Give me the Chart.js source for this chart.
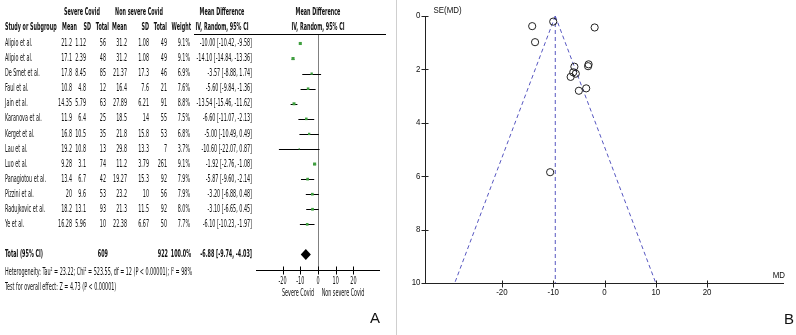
<!DOCTYPE html>
<html>
<head>
<meta charset="utf-8">
<script src="https://cdn.jsdelivr.net/npm/chart.js@4.4.1/dist/chart.umd.min.js"></script>
<style>
    html, body { margin: 0; padding: 0; background: #fff; }
    #wrap { position: relative; width: 796px; height: 335px; overflow: hidden; }
    #forest { position: absolute; left: 0; top: 0; }
    #funnel { position: absolute; left: 398px; top: 0; }
    #divider { position: absolute; left: 396px; top: 0; width: 1px; height: 335px; background: #cfcfcf; }
</style>
</head>
<body>
<div id="wrap">
    <canvas id="forest" width="396" height="335"></canvas>
    <div id="divider"></div>
    <canvas id="funnel" width="398" height="335"></canvas>
</div>
<script>
// forest plot rows
const studies = [
    "Alipio et al.", "Alipio et al.", "De Smet et al.", "Faul et al.", "Jain et al.",
    "Karanova et al.", "Kerget et al.", "Lau et al.", "Luo et al.", "Panagiotou et al.",
    "Pizzini et al.", "Radujkovic et al.", "Ye et al."
];
const severeMean = ["21.2", "17.1", "17.8", "10.8", "14.35", "11.9", "16.8", "19.2", "9.28", "13.4", "20", "18.2", "16.28"];
const severeSD = ["1.12", "2.39", "8.45", "4.8", "5.79", "6.4", "10.5", "10.8", "3.1", "6.7", "9.6", "13.1", "5.96"];
const severeTotal = ["56", "48", "85", "12", "63", "25", "35", "13", "74", "42", "53", "93", "10"];
const nonMean = ["31.2", "31.2", "21.37", "16.4", "27.89", "18.5", "21.8", "29.8", "11.2", "19.27", "23.2", "21.3", "22.38"];
const nonSD = ["1.08", "1.08", "17.3", "7.6", "6.21", "14", "15.8", "13.3", "3.79", "15.3", "10", "11.5", "6.67"];
const nonTotal = ["49", "49", "46", "21", "91", "55", "53", "7", "261", "92", "56", "92", "50"];
const weights = [9.1, 9.1, 6.9, 7.6, 8.8, 7.5, 6.8, 3.7, 9.1, 7.9, 7.9, 8.0, 7.7];
const meanDiff = [-10.00, -14.10, -3.57, -5.60, -13.54, -6.60, -5.00, -10.60, -1.92, -5.87, -3.20, -3.10, -6.10];
const ciLow = [-10.42, -14.84, -8.88, -9.84, -15.46, -11.07, -10.49, -22.07, -2.76, -9.60, -6.88, -6.65, -10.23];
const ciHigh = [-9.58, -13.36, 1.74, -1.36, -11.62, -2.13, 0.49, 0.87, -1.08, -2.14, 0.48, 0.45, -1.97];
const totalRow = { severe: "609", non: "922", weight: "100.0%", md: -6.88, low: -9.74, high: -4.03 };
const forestTicks = [-20, -10, 0, 10, 20];

// funnel plot
const funnelSE = [0.21, 0.38, 2.71, 2.16, 0.98, 2.28, 2.80, 5.85, 0.43, 1.90, 1.88, 1.81, 2.11];
const funnelCentre = -9.6;
const funnelLeftBottom = -29.2;
const funnelRightBottom = 10.0;
const funnelTicksX = [-20, -10, 0, 10, 20];
const funnelTicksY = [0, 2, 4, 6, 8, 10];

const NARROW = "'Liberation Sans Narrow', 'Arial Narrow', 'DejaVu Sans Condensed', sans-serif";
const SANS = "'Liberation Sans', Arial, sans-serif";
const HET_TEXT = "Heterogeneity: Tau\u00b2 = 23.22; Chi\u00b2 = 523.55, df = 12 (P < 0.00001); I\u00b2 = 98%";

let squeeze = null;

function txt(ctx, s, x, y, align, font, sx) {
    ctx.save();
    ctx.font = font;
    ctx.fillStyle = "#111";
    ctx.textBaseline = "middle";
    ctx.textAlign = align;
    ctx.translate(x, y);
    ctx.scale(sx, 1);
    ctx.fillText(s, 0, 0);
    ctx.restore();
}

function fmt(v) {
    return v.toFixed(2);
}

const forestPlugin = {
    id: "forestTable",
    beforeDatasetsDraw(chart) {
        const { ctx, chartArea, scales } = chart;
        const x = scales.x, y = scales.y;
        ctx.save();
        // zero line
        ctx.strokeStyle = "#808080";
        ctx.lineWidth = 1;
        ctx.beginPath();
        ctx.moveTo(Math.round(x.getPixelForValue(0)) + 0.5, chartArea.top);
        ctx.lineTo(Math.round(x.getPixelForValue(0)) + 0.5, chartArea.bottom);
        ctx.stroke();
        // whiskers
        ctx.strokeStyle = "#000";
        meanDiff.forEach((m, i) => {
            const py = Math.round(y.getPixelForValue(i)) + 0.5;
            ctx.beginPath();
            ctx.moveTo(x.getPixelForValue(ciLow[i]), py);
            ctx.lineTo(x.getPixelForValue(ciHigh[i]), py);
            ctx.stroke();
        });
        // pooled diamond
        const dy = y.getPixelForValue(14);
        ctx.fillStyle = "#000";
        ctx.beginPath();
        ctx.moveTo(x.getPixelForValue(totalRow.low), dy);
        ctx.lineTo(x.getPixelForValue(totalRow.md), dy - 5.5);
        ctx.lineTo(x.getPixelForValue(totalRow.high), dy);
        ctx.lineTo(x.getPixelForValue(totalRow.md), dy + 5.5);
        ctx.closePath();
        ctx.fill();
        ctx.restore();
    },
    afterDraw(chart) {
        const { ctx, chartArea, scales } = chart;
        const x = scales.x, y = scales.y;
        const reg = "10px " + NARROW;
        const bold = "bold 10px " + NARROW;
        if (squeeze === null) {
            ctx.font = reg;
            squeeze = 187 / ctx.measureText(HET_TEXT).width;
        }
        const sx = squeeze;

        // headers
        txt(ctx, "Severe Covid", 82, 12, "center", bold, sx);
        txt(ctx, "Non severe Covid", 139, 12, "center", bold, sx);
        txt(ctx, "Mean Difference", 222, 12, "center", bold, sx);
        txt(ctx, "Mean Difference", 318, 12, "center", bold, sx);
        txt(ctx, "Study or Subgroup", 5, 27, "left", bold, sx);
        txt(ctx, "Mean", 77, 27, "right", bold, sx);
        txt(ctx, "SD", 91, 27, "right", bold, sx);
        txt(ctx, "Total", 109, 27, "right", bold, sx);
        txt(ctx, "Mean", 127, 27, "right", bold, sx);
        txt(ctx, "SD", 149, 27, "right", bold, sx);
        txt(ctx, "Total", 167, 27, "right", bold, sx);
        txt(ctx, "Weight", 191, 27, "right", bold, sx);
        txt(ctx, "IV, Random, 95% CI", 222, 27, "center", bold, sx);
        txt(ctx, "IV, Random, 95% CI", 318, 27, "center", bold, sx);

        ctx.save();
        ctx.strokeStyle = "#000";
        ctx.lineWidth = 1;
        ctx.beginPath();
        ctx.moveTo(194, chartArea.top + 0.5);
        ctx.lineTo(386, chartArea.top + 0.5);
        ctx.stroke();
        ctx.restore();

        // study rows
        studies.forEach((name, i) => {
            const py = y.getPixelForValue(i);
            txt(ctx, name, 5, py, "left", reg, sx);
            txt(ctx, severeMean[i], 72, py, "right", reg, sx);
            txt(ctx, severeSD[i], 86, py, "right", reg, sx);
            txt(ctx, severeTotal[i], 106, py, "right", reg, sx);
            txt(ctx, nonMean[i], 127, py, "right", reg, sx);
            txt(ctx, nonSD[i], 149, py, "right", reg, sx);
            txt(ctx, nonTotal[i], 167, py, "right", reg, sx);
            txt(ctx, weights[i].toFixed(1) + "%", 190, py, "right", reg, sx);
            txt(ctx, `${fmt(meanDiff[i])} [${fmt(ciLow[i])}, ${fmt(ciHigh[i])}]`, 252, py, "right", reg, sx);
        });

        // total row
        const ty = y.getPixelForValue(14);
        txt(ctx, "Total (95% CI)", 5, ty, "left", bold, sx);
        txt(ctx, totalRow.severe, 108, ty, "right", bold, sx);
        txt(ctx, totalRow.non, 168, ty, "right", bold, sx);
        txt(ctx, totalRow.weight, 191, ty, "right", bold, sx);
        txt(ctx, `${fmt(totalRow.md)} [${fmt(totalRow.low)}, ${fmt(totalRow.high)}]`, 252, ty, "right", bold, sx);
        txt(ctx, HET_TEXT, 5, 272, "left", reg, sx);
        txt(ctx, "Test for overall effect: Z = 4.73 (P < 0.00001)", 5, 287, "left", reg, sx);

        // axis
        const ay = Math.round(chartArea.bottom) + 0.5;
        ctx.save();
        ctx.strokeStyle = "#000";
        ctx.lineWidth = 1;
        ctx.beginPath();
        ctx.moveTo(chartArea.left, ay);
        ctx.lineTo(chartArea.right, ay);
        forestTicks.forEach(t => {
            const px = Math.round(x.getPixelForValue(t)) + 0.5;
            ctx.moveTo(px, ay - 4);
            ctx.lineTo(px, ay + 4);
        });
        ctx.stroke();
        ctx.restore();
        forestTicks.forEach(t => {
            txt(ctx, String(t), x.getPixelForValue(t), ay + 11, "center", reg, sx);
        });
        txt(ctx, "Severe Covid", 298, ay + 23, "center", reg, sx);
        txt(ctx, "Non severe Covid", 343, ay + 23, "center", reg, sx);

        txt(ctx, "A", 375, 319, "center", "15px " + SANS, 1);
    }
};

new Chart(document.getElementById("forest"), {
    type: "scatter",
    data: {
        datasets: [{
            data: meanDiff.map((m, i) => ({ x: m, y: i })),
            pointStyle: "rect",
            pointRadius: weights.map(w => w * 0.24),
            backgroundColor: "#3f9f3f",
            borderColor: "#3f9f3f",
            borderWidth: 0,
            clip: false
        }]
    },
    options: {
        responsive: false,
        animation: false,
        layout: { padding: { left: 256, right: 16, top: 34, bottom: 65 } },
        plugins: { legend: { display: false }, tooltip: { enabled: false } },
        scales: {
            x: { type: "linear", min: -35, max: 35, display: false },
            y: { type: "linear", min: -0.63, max: 15.03, reverse: true, display: false }
        }
    },
    plugins: [forestPlugin]
});

const funnelPlugin = {
    id: "funnelAxes",
    afterDraw(chart) {
        const { ctx, chartArea, scales } = chart;
        const x = scales.x, y = scales.y;
        const font = "9px " + SANS;
        const sx = 0.88;
        const left = Math.round(chartArea.left) + 0.5;
        const bottom = Math.round(chartArea.bottom) + 0.5;
        ctx.save();
        ctx.strokeStyle = "#222";
        ctx.lineWidth = 1;
        ctx.beginPath();
        ctx.moveTo(left, chartArea.top);
        ctx.lineTo(left, bottom);
        ctx.lineTo(chartArea.right, bottom);
        funnelTicksY.forEach(v => {
            const py = Math.round(y.getPixelForValue(v)) + 0.5;
            ctx.moveTo(left - 4, py);
            ctx.lineTo(left + 3, py);
        });
        funnelTicksX.forEach(v => {
            const px = Math.round(x.getPixelForValue(v)) + 0.5;
            ctx.moveTo(px, bottom - 3);
            ctx.lineTo(px, bottom + 4);
        });
        ctx.stroke();
        ctx.restore();
        funnelTicksY.forEach(v => {
            txt(ctx, String(v), left - 5, y.getPixelForValue(v), "right", font, sx);
        });
        funnelTicksX.forEach(v => {
            txt(ctx, String(v), x.getPixelForValue(v), bottom + 9, "center", font, sx);
        });
        txt(ctx, "SE(MD)", left + 8, 11, "left", font, sx);
        txt(ctx, "MD", chartArea.right + 1, bottom - 8, "right", font, sx);
        txt(ctx, "B", 391, 320, "center", "15px " + SANS, 1);
    }
};

const dashed = {
    showLine: true,
    borderColor: "#5656c0",
    borderWidth: 1,
    borderDash: [4, 3],
    pointRadius: 0,
    fill: false
};

new Chart(document.getElementById("funnel"), {
    type: "scatter",
    data: {
        datasets: [
            {
                data: meanDiff.map((m, i) => ({ x: m, y: funnelSE[i] })),
                pointStyle: "circle",
                pointRadius: 3.6,
                borderColor: "#222",
                borderWidth: 1,
                backgroundColor: "rgba(255,255,255,0)",
                clip: false
            },
            Object.assign({ data: [{ x: funnelCentre, y: 0 }, { x: funnelLeftBottom, y: 10 }] }, dashed),
            Object.assign({ data: [{ x: funnelCentre, y: 0 }, { x: funnelRightBottom, y: 10 }] }, dashed),
            Object.assign({ data: [{ x: funnelCentre, y: 0 }, { x: funnelCentre, y: 10 }] }, dashed)
        ]
    },
    options: {
        responsive: false,
        animation: false,
        layout: { padding: { left: 27, right: 12, top: 16, bottom: 52 } },
        plugins: { legend: { display: false }, tooltip: { enabled: false } },
        scales: {
            x: { type: "linear", min: -35, max: 35, display: false },
            y: { type: "linear", min: 0, max: 10, reverse: true, display: false }
        }
    },
    plugins: [funnelPlugin]
});
</script>
</body>
</html>
